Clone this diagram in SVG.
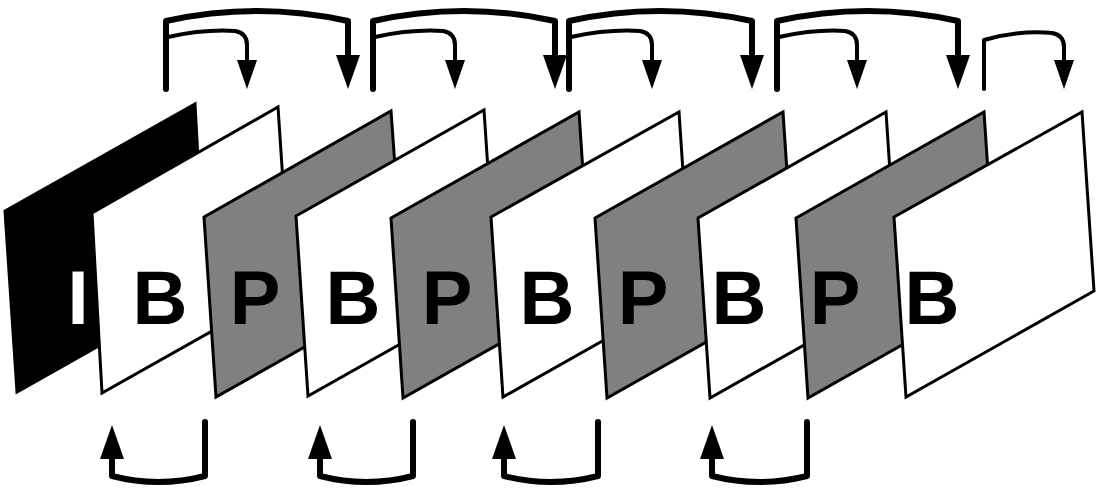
<svg xmlns="http://www.w3.org/2000/svg" width="1099" height="492" viewBox="0 0 1099 492">
<defs>
<style>
.frame{stroke:#000;stroke-width:3;stroke-linejoin:miter}
.I{fill:#000}
.B{fill:#fff}
.P{fill:#808080}
.lbl{font-family:"Liberation Sans",Arial,sans-serif;font-weight:bold;font-size:76px;text-anchor:middle;fill:#000}
.lblI{fill:#fff}
.long{fill:none;stroke:#000;stroke-width:6;stroke-linejoin:round;stroke-linecap:round}
.short{fill:none;stroke:#000;stroke-width:4;stroke-linejoin:round;stroke-linecap:round}
.up{fill:none;stroke:#000;stroke-width:6;stroke-linejoin:round;stroke-linecap:round}
</style>
<marker id="headBig" markerUnits="userSpaceOnUse" markerWidth="34" markerHeight="24" viewBox="0 0 34 24" refX="1" refY="12" orient="auto">
<path d="M0,0 L34,12 L0,24 Z" fill="#000"/>
</marker>
<marker id="headSmall" markerUnits="userSpaceOnUse" markerWidth="29" markerHeight="20" viewBox="0 0 29 20" refX="1" refY="10" orient="auto">
<path d="M0,0 L29,10 L0,20 Z" fill="#000"/>
</marker>
</defs>
<rect width="1099" height="492" fill="#fff"/>

<g id="frame-I"><polygon class="frame I" points="5,211 195,104 205,286 17,392"/><text class="lbl lblI" x="78" y="324">I</text></g>
<g id="frame-B1"><polygon class="frame B" points="92,213 278,107 290,287 102,393"/><text class="lbl" x="160" y="324">B</text></g>
<g id="frame-P1"><polygon class="frame P" points="204,217 391,111 404,291 216,397"/><text class="lbl" x="255" y="324">P</text></g>
<g id="frame-B2"><polygon class="frame B" points="296,216 484,110 496,290 308,396"/><text class="lbl" x="353" y="324">B</text></g>
<g id="frame-P2"><polygon class="frame P" points="391,218 579,112 591,292 403,398"/><text class="lbl" x="447" y="324">P</text></g>
<g id="frame-B3"><polygon class="frame B" points="491,217 679,112 691,291 503,397"/><text class="lbl" x="547" y="324">B</text></g>
<g id="frame-P3"><polygon class="frame P" points="595,218 783,112 795,292 607,398"/><text class="lbl" x="643" y="324">P</text></g>
<g id="frame-B4"><polygon class="frame B" points="698,218 886,112 898,292 710,398"/><text class="lbl" x="739" y="324">B</text></g>
<g id="frame-P4"><polygon class="frame P" points="796,218 984,112 996,292 808,398"/><text class="lbl" x="835" y="324">P</text></g>
<g id="frame-B5"><polygon class="frame B" points="894,217 1082,112 1094,291 906,397"/><text class="lbl" x="932" y="324">B</text></g>

<g id="connectors">
<path class="long" d="M166,89 L166,21 Q257,1 348,21 L348,56" marker-end="url(#headBig)"/>
<path class="short" d="M168,37 Q205,29 235,31 Q247,33 247,45 L247,61" marker-end="url(#headSmall)"/>
<path class="long" d="M373,89 L373,21 Q464,1 555,21 L555,56" marker-end="url(#headBig)"/>
<path class="short" d="M375,37 Q412,29 443,31 Q455,33 455,45 L455,61" marker-end="url(#headSmall)"/>
<path class="long" d="M569,89 L569,21 Q660,1 752,21 L752,56" marker-end="url(#headBig)"/>
<path class="short" d="M571,37 Q608,29 640,31 Q652,33 652,45 L652,61" marker-end="url(#headSmall)"/>
<path class="long" d="M777,89 L777,21 Q868,1 958,21 L958,56" marker-end="url(#headBig)"/>
<path class="short" d="M779,37 Q816,29 845,31 Q857,33 857,45 L857,61" marker-end="url(#headSmall)"/>
<path class="short" d="M984,89 L984,40 Q1020,30 1052,33 Q1064,35 1064,47 L1064,61" marker-end="url(#headSmall)"/>

<path class="up" d="M205,422 L205,476 Q158.5,488 112,476 L112,458" marker-end="url(#headBig)"/>
<path class="up" d="M413,422 L413,476 Q366.5,488 320,476 L320,458" marker-end="url(#headBig)"/>
<path class="up" d="M598,422 L598,476 Q551,488 504,476 L504,458" marker-end="url(#headBig)"/>
<path class="up" d="M807,422 L807,476 Q759.5,488 712,476 L712,458" marker-end="url(#headBig)"/>
</g>
</svg>
